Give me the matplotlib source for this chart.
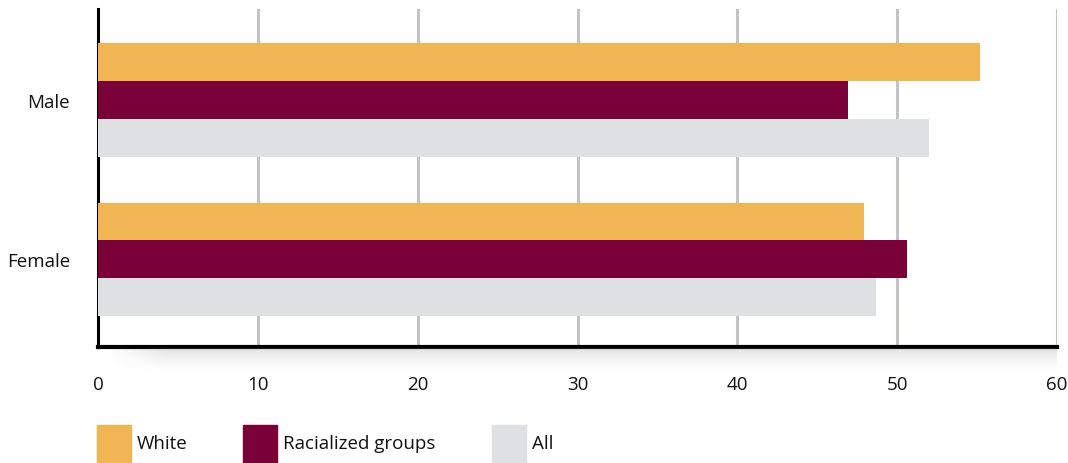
import numpy as np
import matplotlib.pyplot as plt

plt.rcParams['font.family'] = ['Open Sans', 'DejaVu Sans']

# данные
groups = ['Male', 'Female']
series = ['White', 'Racialized groups', 'All']
white = [55.2, 47.9]
racialized = [46.9, 50.6]
all_ = [52.0, 48.7]
values = [white, racialized, all_]
colors = ['#F0B653', '#7A0038', '#DFE0E2']
xticks = [0, 10, 20, 30, 40, 50, 60]

W, H = 1068, 464
fig = plt.figure(figsize=(W / 100, H / 100), dpi=100)
ax = fig.add_axes([98 / W, 1 - 348 / H, (1057 - 98) / W, (348 - 10) / H])

# тень под осью
sh = fig.add_axes([98 / W, 1 - 374 / H, (1057 - 98) / W, 25 / H], zorder=0)
ny, nx = 50, 400
t = np.linspace(0, 1, ny)[:, None]
s = np.linspace(0, 1, nx)[None, :]
alpha = 0.22 * (1 - t) ** 1.6 * np.clip((s - 0.01) / 0.06, 0, 1)
img = np.zeros((ny, nx, 4))
img[..., :3] = 0.45
img[..., 3] = alpha
sh.imshow(img, aspect='auto', extent=[0, 1, 0, 1], origin='upper')
sh.axis('off')

bh = 0.2375
y = np.arange(len(groups))
for i, (vals, c, name) in enumerate(zip(values, colors, series)):
    ax.barh(y + (i - 1) * bh, vals, height=bh, color=c, label=name, zorder=3)

ax.set_xlim(0, 60)
ax.set_ylim(1.55, -0.57)
ax.set_xticks(xticks)
ax.set_yticks(y)
ax.set_yticklabels(groups)
ax.tick_params(axis='both', length=0, labelsize=13.5, colors='#111111')
ax.tick_params(axis='x', pad=20)
ax.tick_params(axis='y', pad=20)
ax.grid(axis='x', color='#C3C3C7', linewidth=2.2, zorder=0)
for sp in ['top', 'right']:
    ax.spines[sp].set_visible(False)
ax.spines['left'].set_linewidth(2.2)
ax.spines['bottom'].set_linewidth(3)
ax.spines['left'].set_color('black')
ax.spines['bottom'].set_color('black')

# легенда
lx = [97, 243, 492]
for x0, c, name in zip(lx, colors, series):
    fig.patches.append(plt.Rectangle((x0 / W, 0), 34 / W, 38 / H,
                                     transform=fig.transFigure, color=c))
    fig.text((x0 + 40) / W, 1 - 444 / H, name, fontsize=13.5,
             va='center', ha='left', color='#111111')

fig.savefig('out.png', dpi=100)
